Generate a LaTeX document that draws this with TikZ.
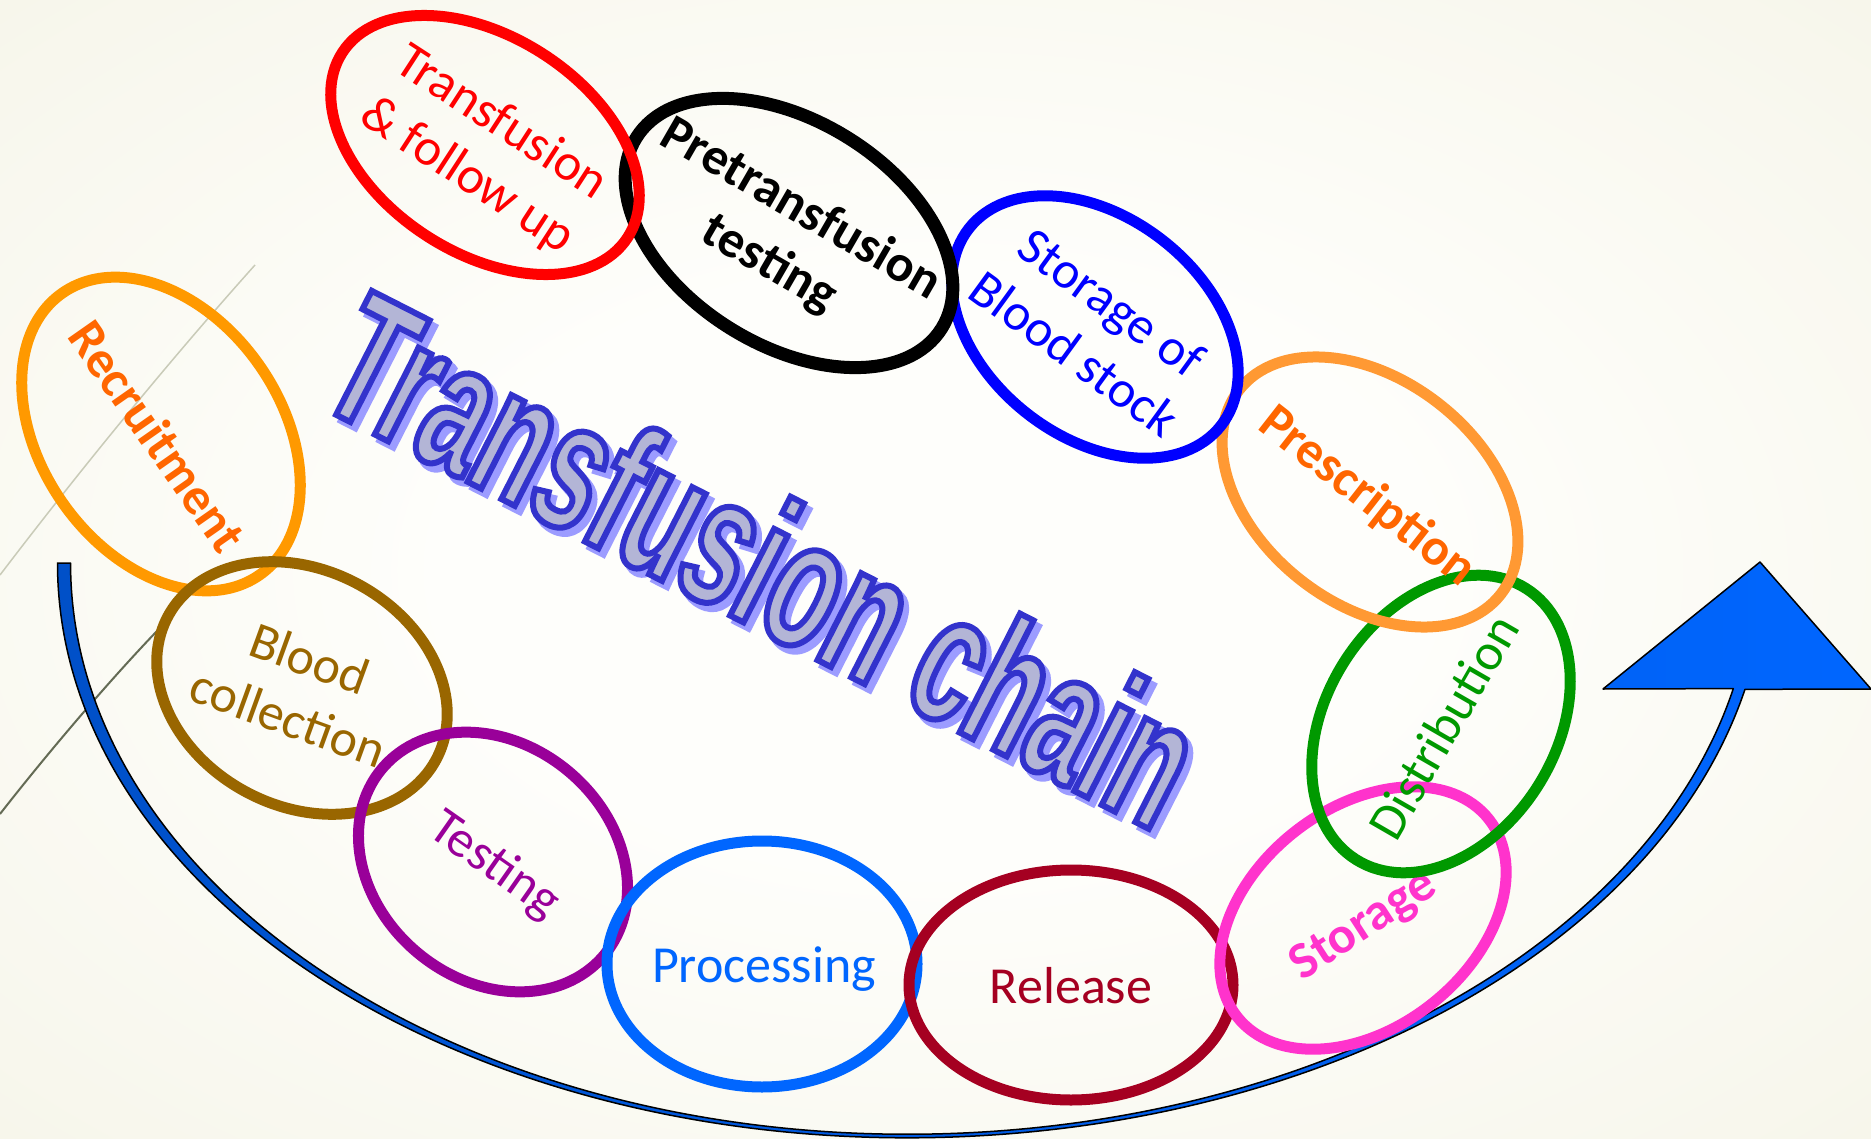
\documentclass[tikz,border=0pt]{standalone}
\usepackage{fontspec}
\setmainfont{Carlito}
\newfontfamily\titlefont{Liberation Sans Bold}[FakeStretch=0.6]
\definecolor{bgin}{HTML}{FEFEFB}
\definecolor{bgout}{HTML}{EDEBD5}
\definecolor{cRed}{HTML}{FF0000}
\definecolor{cBlue}{HTML}{0000FF}
\definecolor{cPresRing}{HTML}{FF9933}
\definecolor{cOrangeTxt}{HTML}{FF6600}
\definecolor{cGreen}{HTML}{009900}
\definecolor{cPink}{HTML}{FF33CC}
\definecolor{cRelease}{HTML}{A50021}
\definecolor{cProc}{HTML}{0066FF}
\definecolor{cTest}{HTML}{990099}
\definecolor{cBlood}{HTML}{996600}
\definecolor{cRecRing}{HTML}{FF9900}
\definecolor{arrowdark}{HTML}{0050C8}
\definecolor{arrowblue}{HTML}{0066FF}
\definecolor{titlefill}{HTML}{B3B5D6}
\definecolor{titleshadow}{HTML}{9C9CFF}
\definecolor{lightdeco}{HTML}{C9CBB8}
\definecolor{darkdeco}{HTML}{646B55}
\pgfdeclareradialshading{bgshade}{\pgfpoint{0bp}{0bp}}{color(0bp)=(bgin); color(13bp)=(bgin); color(66bp)=(bgout)}
% outlined text via PDF text render mode (fill + stroke)
\newcommand{\outlinedtext}[3]{\special{pdf:literal direct 2 Tr #2 w #1 RG}#3\special{pdf:literal direct 0 Tr}}
\tikzset{
  ring/.style={line width=11pt},
  lbl/.style={inner sep=0pt, align=center, font=\fontsize{52}{63}\selectfont},
  lblb/.style={inner sep=0pt, align=center, font=\fontsize{52}{63}\selectfont\bfseries},
  arrowbody/.style={draw=black, line width=1.5pt, line join=round, left color=arrowdark, right color=arrowblue},
  titletext/.style={anchor=base west, inner sep=0pt, rotate=-27, font=\titlefont\fontsize{184}{184}\selectfont}
}
\begin{document}
\begin{tikzpicture}[x=1pt, y=-1pt]
\useasboundingbox (0,0) rectangle (1871,1139);
\shade[shading=bgshade] (0,0) rectangle (1871,1139);
% decorative theme lines
\draw[lightdeco, line width=1.5pt] (0,575) .. controls (80,470) and (170,360) .. (255,265);
\draw[darkdeco, line width=2pt] (0,814) .. controls (50,750) and (110,680) .. (157,631);
% curved arrow (tapered half-ellipse shaft with triangular head)
\path[arrowbody] (57.5,563)
  arc[start angle=180, end angle=90, x radius=849.5, y radius=574.8]
  arc[start angle=90, end angle=12.7, x radius=859, y radius=574.8]
  -- (1871,689) -- (1760,562) -- (1603,689) -- (1733.3,688.6)
  arc[start angle=12.7, end angle=90, x radius=847, y radius=571.2]
  arc[start angle=90, end angle=180, x radius=836.5, y radius=571.2]
  -- cycle;
% rings and labels
\draw[ring, cRecRing, rotate around={-55:(161,434)}] (161,434) ellipse [x radius=172, y radius=120];
\node[lblb, text=cOrangeTxt, rotate=-55] (recruitment) at (158,436) {Recruitment};
\draw[ring, cBlood, rotate around={-28:(302,688)}] (302,688) ellipse [x radius=152, y radius=118];
\node[lbl, text=cBlood, rotate=-20] (bloodcollection) at (299,688) {Blood\\collection};
\draw[ring, cTest, rotate around={-40:(493,862)}] (493,862) ellipse [x radius=145, y radius=118];
\node[lbl, text=cTest, rotate=-35] (testing) at (494,866) {Testing};
\draw[ring, cProc] (762,964) ellipse [x radius=155, y radius=123];
\node[lbl, text=cProc, anchor=base] (processing) at (764,982) {Processing};
\draw[ring, cRelease] (1071,985) ellipse [x radius=162, y radius=115];
\node[lbl, text=cRelease, anchor=base] (release) at (1071,1003) {Release};
\draw[ring, cPink, rotate around={38:(1363,918)}] (1363,918) ellipse [x radius=160, y radius=110];
\node[lblb, text=cPink, rotate=33] (storage) at (1364,926) {Storage};
\draw[ring, cGreen, rotate around={58:(1441,724)}] (1441,724) ellipse [x radius=160, y radius=115];
\node[lbl, text=cGreen, rotate=60] (distribution) at (1443,727) {Distribution};
\draw[ring, cPresRing, rotate around={-38:(1370,492)}] (1370,492) ellipse [x radius=166, y radius=112];
\node[lblb, text=cOrangeTxt, rotate=-38] (prescription) at (1367,497) {Prescription};
\draw[ring, cBlue, rotate around={-38:(1095,327)}] (1095,327) ellipse [x radius=160, y radius=110];
\node[lbl, text=cBlue, rotate=-36] (storagestock) at (1093,328) {Storage of\\Blood stock};
\draw[ring, black, line width=13pt, rotate around={-32:(789,233)}] (789,233) ellipse [x radius=180, y radius=112];
\node[lblb, text=black, rotate=-30] (pretransfusion) at (785,237) {Pretransfusion\\testing};
\draw[ring, cRed, rotate around={-33:(485,145)}] (485,145) ellipse [x radius=170, y radius=108];
\node[lbl, text=cRed, rotate=-33] (transfusion) at (484,150) {Transfusion\\\& follow up};
% title with shadow
\node[titletext, text=titleshadow] (titleshadow) at (318,409) {\outlinedtext{0.612 0.612 1}{6.5}{Transfusion chain}};
\node[titletext, text=titlefill] (title) at (313,403) {\outlinedtext{0.2 0.2 0.8}{6}{Transfusion chain}};
\end{tikzpicture}
\end{document}
